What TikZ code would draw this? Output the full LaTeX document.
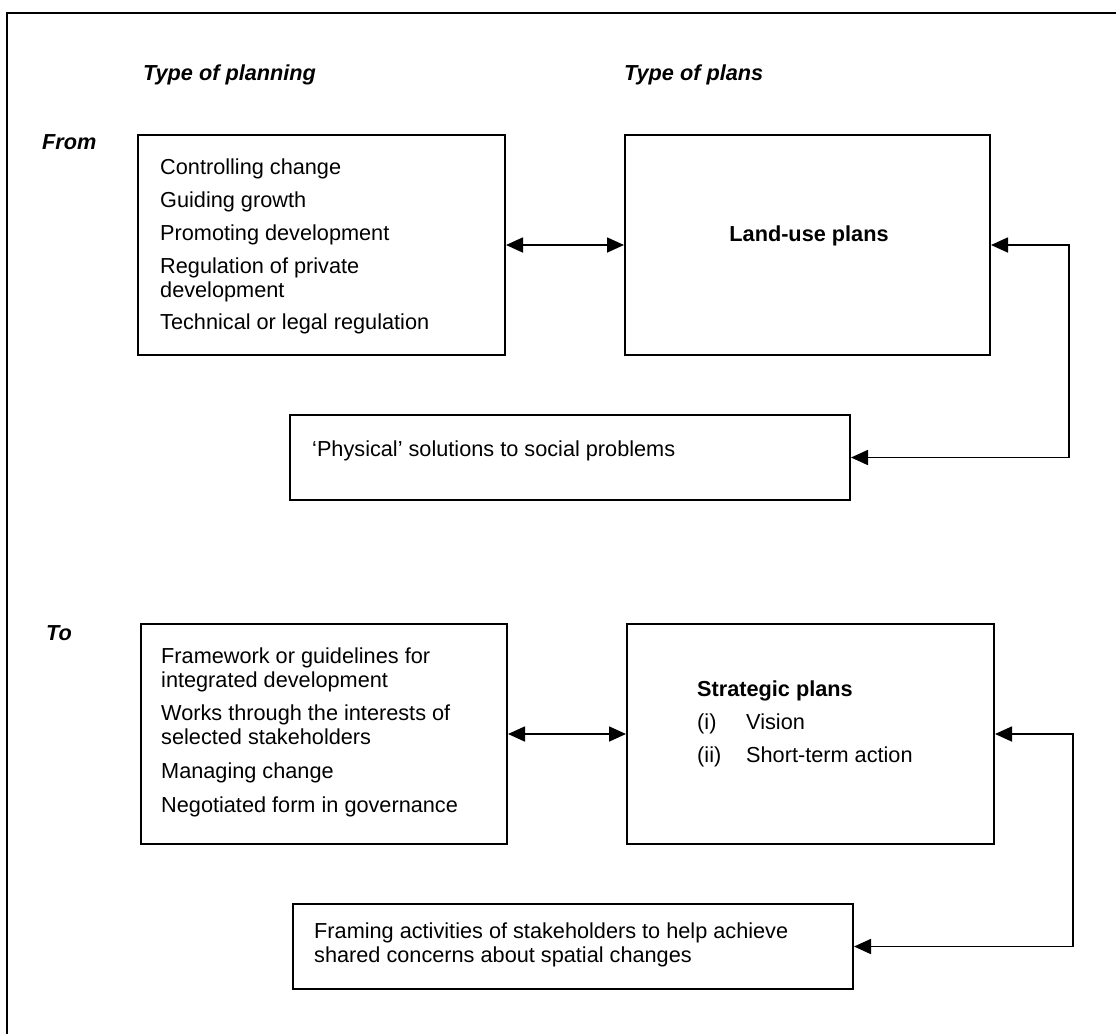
\documentclass[tikz,border=0pt]{standalone}
\usepackage{fontspec}
\setmainfont{Liberation Sans}
\usetikzlibrary{arrows.meta}
\begin{document}
\begin{tikzpicture}[x=1pt,y=-1pt,
  every node/.style={font=\fontsize{21.7pt}{24pt}\selectfont},
  box/.style={draw, line width=2pt, inner sep=0pt},
  txt/.style={inner sep=0pt, align=left, anchor=west},
  head/.style={inner sep=0pt, anchor=west, font=\fontsize{21.7pt}{24pt}\selectfont\bfseries\itshape},
  frame/.style={line width=2.4pt},
  link/.style={line width=1.7pt, {Triangle[length=17pt,width=15pt]}-{Triangle[length=17pt,width=15pt]}}
]
\useasboundingbox (0,0) rectangle (1116,1034);
\fill[white] (0,0) rectangle (1116,1034);
% outer frame (top and left edges)
\draw[frame] (7,1034) -- (7,13) -- (1116,13);

% headings
\node[head] (h1) at (143,75) {Type of planning};
\node[head] (h2) at (624,75) {Type of plans};
\node[head] (hf) at (42,142) {From};
\node[head] (ht) at (46,633) {To};

% From section
\node[box, minimum width=367pt, minimum height=220pt] (b1) at (321.5,245) {};
\node[txt] (t1) at (160,246) {Controlling change\\[9pt]Guiding growth\\[9pt]Promoting development\\[9pt]Regulation of private\\development\\[8pt]Technical or legal regulation};
\node[box, minimum width=365pt, minimum height=220pt] (lu) at (807.5,245) {};
\node[inner sep=0pt] (tlu) at (809,236) {\textbf{Land-use plans}};
\node[box, minimum width=560pt, minimum height=85pt] (ph) at (570,457.5) {};
\node[txt] (tph) at (312,451) {`Physical' solutions to social problems};
\coordinate (c1) at (1069,245);

\draw[link] (b1.east) -- (lu.west);
\draw[link] (lu.east) -- (c1) |- (ph.east);

% To section
\node[box, minimum width=366pt, minimum height=220pt] (b3) at (324,734) {};
\node[txt] (t3) at (161,732.5) {Framework or guidelines for\\integrated development\\[9pt]Works through the interests of\\selected stakeholders\\[10pt]Managing change\\[10pt]Negotiated form in governance};
\node[box, minimum width=367pt, minimum height=220pt] (sp) at (810.5,734) {};
\node[txt] (tsp) at (697,723.5) {\textbf{Strategic plans}\\[9pt]\makebox[49pt][l]{(i)}Vision\\[9pt]\makebox[49pt][l]{(ii)}Short-term action};
\node[box, minimum width=560pt, minimum height=85pt] (fr) at (573,946.5) {};
\node[txt] (tfr) at (314,944.5) {Framing activities of stakeholders to help achieve\\shared concerns about spatial changes};
\coordinate (c2) at (1073,734);

\draw[link] (b3.east) -- (sp.west);
\draw[link] (sp.east) -- (c2) |- (fr.east);
\end{tikzpicture}
\end{document}
